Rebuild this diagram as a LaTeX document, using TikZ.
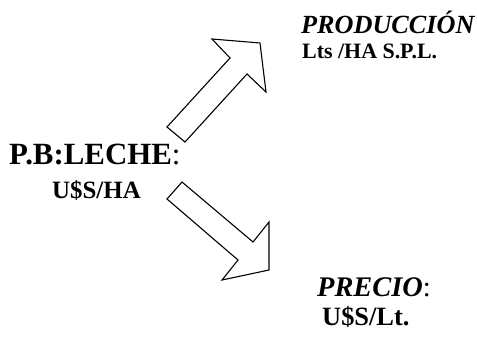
\documentclass[tikz,border=0pt]{standalone}
\usepackage{fontspec}
\setmainfont{Liberation Serif}
\usepackage{tikz}
\tikzstyle{big} = [anchor=base west, inner sep=0pt, font=\fontsize{31}{34}\selectfont\bfseries]
\tikzstyle{unit} = [anchor=base west, inner sep=0pt, font=\fontsize{25}{28}\selectfont\bfseries]
\tikzstyle{result} = [anchor=base west, inner sep=0pt, font=\fontsize{27}{30}\selectfont\bfseries\itshape]
\tikzstyle{blockarrow} = [draw, line width=1.1bp, line join=miter, fill=white]

\begin{document}
\begin{tikzpicture}[x=1bp, y=-1bp]
\useasboundingbox (0,0) rectangle (477,339);
\node [big] (leche) at (9,164) {P.B:LECHE\normalfont:};
\node [unit] (ussha) at (52,198) {U\$S/HA};
\node [result, font=\fontsize{26.3}{30}\selectfont\bfseries\itshape] (prod) at (301,33) {PRODUCCIÓN};
\node [unit, font=\fontsize{22}{26}\selectfont\bfseries] (lts) at (302,58) {Lts /HA S.P.L.};
\node [result, font=\fontsize{28.5}{32}\selectfont\bfseries\itshape] (precio) at (317,296) {PRECIO\normalfont:};
\node [unit, font=\fontsize{26.5}{30}\selectfont\bfseries] (usslt) at (322,325) {U\$S/Lt.};
% arrow up
\path [blockarrow] (167,127) -- (230,58) -- (212,39) -- (260,43) -- (266,92)
  -- (247,74) -- (185,142) -- cycle;
% arrow down
\path [blockarrow] (182,182) -- (253,242) -- (269,222) -- (269,270) -- (222,280)
  -- (238,260) -- (167,199) -- cycle;
\end{tikzpicture}
\end{document}
